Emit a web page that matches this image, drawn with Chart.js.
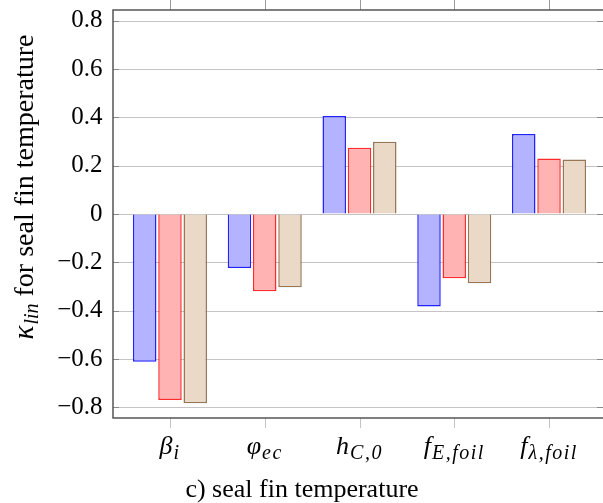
<!DOCTYPE html>
<html lang="en">
<head>
<meta charset="utf-8">
<title>seal fin temperature</title>
<script src="https://cdn.jsdelivr.net/npm/chart.js"></script>
<style>
  body{margin:0;padding:0;background:#fff}
  #wrap{width:603px;height:503px}
</style>
</head>
<body>
<div id="wrap"><canvas id="chart" width="603" height="503"></canvas></div>
<script>
// categories: symbol + subscript
const catBase = ['β', 'φ', 'h', 'f', 'f'];
const catSub = ['i', 'ec', 'C,0', 'E,foil', 'λ,foil'];
const labels = catBase.map((b, i) => b + '_' + catSub[i]);

const seriesBlue = [-0.611, -0.223, 0.405, -0.383, 0.331];
const seriesRed = [-0.770, -0.320, 0.274, -0.266, 0.230];
const seriesTan = [-0.783, -0.303, 0.299, -0.287, 0.225];

const yTicks = [-0.8, -0.6, -0.4, -0.2, 0, 0.2, 0.4, 0.6, 0.8];

const SERIF = '"Liberation Serif", "Times New Roman", serif';

function fmt(v) {
  const r = Math.round(v * 10) / 10;
  if (r === 0) return '0';
  return (r < 0 ? '\u2212' : '') + Math.abs(r).toFixed(1);
}

// base text + subscript; x is the centre unless align is 'left'
function drawSub(ctx, base, sub, x, y, baseFont, subFont, subDy, align, spacing) {
  spacing = spacing || 0;
  ctx.letterSpacing = '0px';
  ctx.font = baseFont;
  const wb = ctx.measureText(base).width + 1;
  ctx.font = subFont;
  ctx.letterSpacing = spacing + 'px';
  const ws = ctx.measureText(sub).width;
  const w = wb + ws;
  const x0 = align === 'left' ? x : x - w / 2;
  ctx.textAlign = 'left';
  ctx.textBaseline = 'alphabetic';
  ctx.fillText(sub, x0 + wb, y + subDy);
  ctx.letterSpacing = '0px';
  ctx.font = baseFont;
  ctx.fillText(base, x0, y);
  return w;
}

const decor = {
  id: 'decor',
  beforeDraw(chart) {
    const ctx = chart.ctx;
    ctx.save();
    ctx.fillStyle = '#fff';
    ctx.fillRect(0, 0, chart.width, chart.height);
    ctx.restore();
  },
  beforeDatasetsDraw(chart) {
    const ctx = chart.ctx, ys = chart.scales.y, xs = chart.scales.x;
    const L = 113, R = 606, T = chart.chartArea.top, B = chart.chartArea.bottom;
    ctx.save();
    // grid
    ctx.strokeStyle = '#c4c4c4';
    ctx.lineWidth = 1;
    yTicks.forEach(v => {
      const py = Math.round(ys.getPixelForValue(v)) + 0.5;
      ctx.beginPath(); ctx.moveTo(L, py); ctx.lineTo(R, py); ctx.stroke();
    });
    // tick marks inside
    ctx.strokeStyle = '#8a8a8a';
    yTicks.forEach(v => {
      const py = Math.round(ys.getPixelForValue(v)) + 0.5;
      ctx.beginPath(); ctx.moveTo(L, py); ctx.lineTo(L + 6, py); ctx.stroke();
      ctx.beginPath(); ctx.moveTo(R - 9, py); ctx.lineTo(R, py); ctx.stroke();
    });
    // x ticks: above the frame and below it
    labels.forEach((_, i) => {
      const px = Math.round(xs.getPixelForTick(i)) + 0.5;
      ctx.strokeStyle = '#9a9a9a';
      ctx.beginPath(); ctx.moveTo(px, 0); ctx.lineTo(px, T); ctx.stroke();
      ctx.strokeStyle = '#c4c4c4';
      ctx.beginPath(); ctx.moveTo(px, B); ctx.lineTo(px, B + 10); ctx.stroke();
    });
    // frame
    ctx.strokeStyle = '#555';
    ctx.lineWidth = 1.5;
    ctx.beginPath();
    ctx.moveTo(R, T); ctx.lineTo(L, T); ctx.lineTo(L, B); ctx.lineTo(R, B);
    ctx.stroke();
    ctx.restore();
  },
  afterDraw(chart) {
    const ctx = chart.ctx, xs = chart.scales.x;
    ctx.save();
    ctx.fillStyle = '#000';
    // category labels
    labels.forEach((_, i) => {
      const px = xs.getPixelForTick(i);
      drawSub(ctx, catBase[i], catSub[i], px, 454,
        'italic 26px ' + SERIF, 'italic 20px ' + SERIF, 5, 'center', 1.5);
    });
    // y title, rotated
    ctx.translate(33, 187);
    ctx.rotate(-Math.PI / 2);
    const main = ' for seal fin temperature';
    const fMain = '28px ' + SERIF, fK = 'italic 29px ' + SERIF, fS = 'italic 20px ' + SERIF;
    ctx.font = fMain;
    const wm = ctx.measureText(main).width;
    ctx.font = fK;
    const wk = ctx.measureText('κ').width + 1;
    ctx.font = fS;
    const wl = ctx.measureText('lin').width;
    const x0 = -(wk + wl + wm) / 2;
    drawSub(ctx, 'κ', 'lin', x0, 0, fK, fS, 5, 'left', 0);
    ctx.font = fMain;
    ctx.fillText(main, x0 + wk + wl, 0);
    ctx.restore();
    // caption
    ctx.save();
    ctx.fillStyle = '#000';
    ctx.font = '26px ' + SERIF;
    ctx.textAlign = 'center';
    ctx.textBaseline = 'alphabetic';
    ctx.fillText('c) seal fin temperature', 302, 497);
    ctx.restore();
  }
};

new Chart(document.getElementById('chart'), {
  type: 'bar',
  data: {
    labels,
    datasets: [
      { data: seriesBlue, backgroundColor: '#b3b3ff', borderColor: '#2222ff', borderWidth: 1.5 },
      { data: seriesRed, backgroundColor: '#ffb3b3', borderColor: '#ff2a2a', borderWidth: 1.5 },
      { data: seriesTan, backgroundColor: '#ead9c6', borderColor: '#957656', borderWidth: 1.5 }
    ]
  },
  options: {
    responsive: false,
    animation: false,
    devicePixelRatio: 1,
    layout: { padding: { top: 10, right: 6.6, left: 0, bottom: 0 } },
    datasets: { bar: { categoryPercentage: 0.8, barPercentage: 0.93 } },
    plugins: { legend: { display: false }, tooltip: { enabled: false } },
    scales: {
      x: {
        offset: true,
        grid: { display: false, drawTicks: false },
        border: { display: false },
        ticks: { display: false },
        afterFit(s) { s.height = 85; }
      },
      y: {
        min: -0.844,
        max: 0.844,
        grid: { display: true, drawOnChartArea: false, drawTicks: true, tickLength: 20, color: 'rgba(0,0,0,0)' },
        border: { display: false },
        afterBuildTicks(s) { s.ticks = yTicks.map(v => ({ value: v })); },
        afterFit(s) { s.width = 122.6; },
        ticks: {
          padding: 0,
          color: '#000',
          font: { family: SERIF, size: 25, lineHeight: 0.8 },
          callback: v => fmt(v)
        }
      }
    }
  },
  plugins: [decor]
});
</script>
</body>
</html>
